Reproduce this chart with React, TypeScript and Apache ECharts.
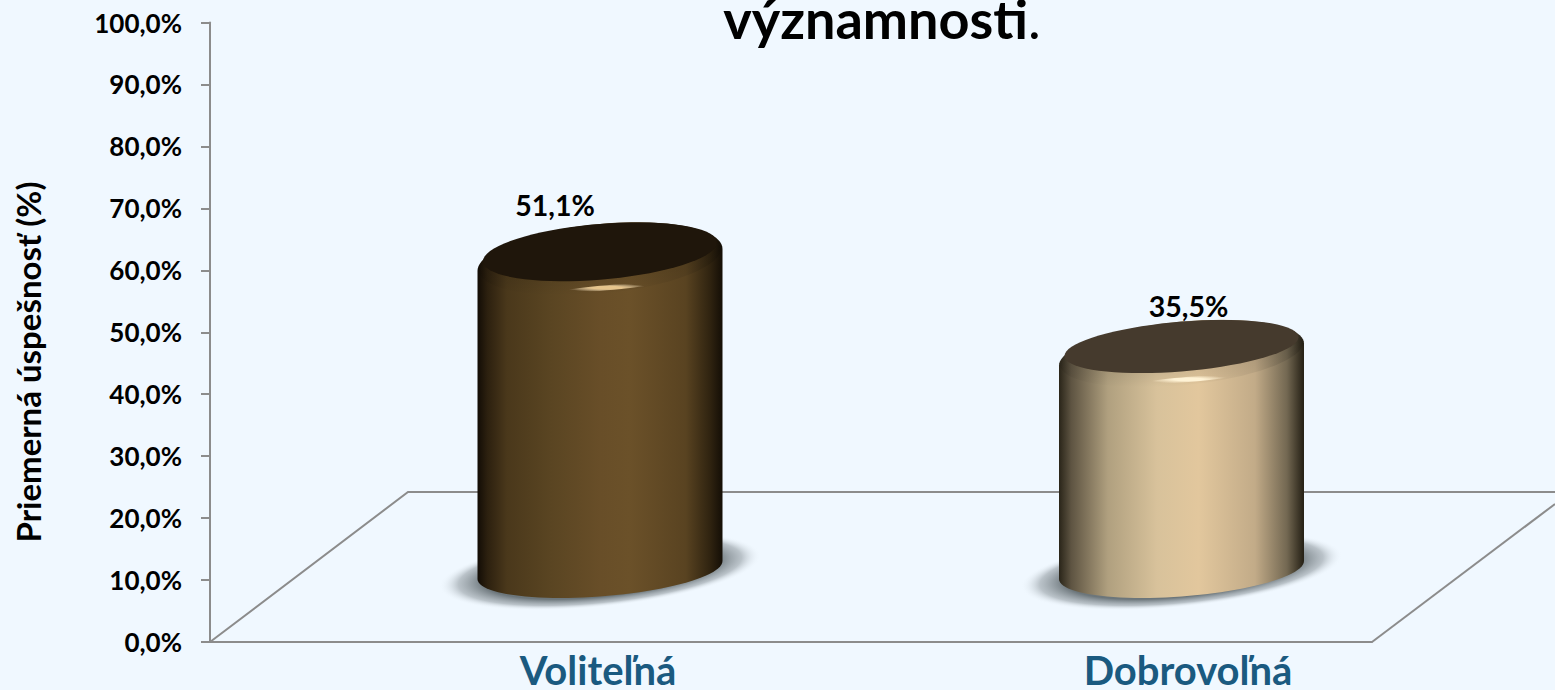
import React, { useEffect, useRef } from "react";
import * as echarts from "echarts";

const categories = ["Voliteľná", "Dobrovoľná"];
const values = [51.1, 35.5];
const yTicks = { min: 0, max: 100, interval: 10 };
const titleText = "významnosti";
const yAxisTitle = "Priemerná úspešnosť (%)";

const FONT = "Lato, 'Open Sans', sans-serif";
const AXIS_GRAY = "#8c8c8c";

const palette = [
  {
    top: "#1f160b",
    glow: "#e6c48c",
    stops: [
      [0, "#120c05"], [0.04, "#2c200f"], [0.12, "#4a381b"], [0.3, "#5a4522"], [0.5, "#684e28"],
      [0.62, "#6b5129"], [0.85, "#594321"], [0.95, "#2f2310"], [1, "#140e06"],
    ],
  },
  {
    top: "#453a2d",
    glow: "#fff3d6",
    stops: [
      [0, "#2a2519"], [0.05, "#5e5442"], [0.2, "#b0a07f"], [0.4, "#d8c29b"],
      [0.57, "#e2c79d"], [0.8, "#c2ab88"], [0.93, "#736852"], [1, "#241f14"],
    ],
  },
];
const labelShift = [[-45, -55], [7, -49]];

function arc(cx: number, cy: number, a: number, b: number, s: number, t0: number, t1: number, n = 48) {
  const out: number[][] = [];
  for (let i = 0; i <= n; i++) {
    const t = t0 + ((t1 - t0) * i) / n;
    out.push([cx + a * Math.cos(t), cy - s * a * Math.cos(t) + b * Math.sin(t)]);
  }
  return out;
}

const grad = (stops: any[]) =>
  new echarts.graphic.LinearGradient(0, 0, 1, 0, stops.map(([offset, color]) => ({ offset, color })));

function renderCylinder(params: any, api: any) {
  const i = params.dataIndex;
  const cat = api.value(0);
  const val = api.value(1);
  const [cx, topY] = api.coord([cat, val]);
  const [, baseY] = api.coord([cat, 0]);
  const halfW = (api.size([1, 0])[0] * 0.4213) / 2;
  const h = baseY - topY;
  const topB = 26 + 0.032 * h;
  const p = palette[i];
  const pi = Math.PI;

  const body = [
    ...arc(cx, topY, halfW, topB, 0.09, pi, 2 * pi),
    ...arc(cx, baseY, halfW, 26.5, 0.073, 0, pi),
  ];
  const rimShade = arc(cx, topY - 1, halfW - 1, topB - 1, 0.09, 0, 2 * pi, 72);
  const face = arc(cx, topY - 8, halfW - 5.5, topB - 8, 0.08, 0, 2 * pi, 72);
  const glow = arc(cx + 7, topY + topB - 8, 42, 2.6, 0.08, 0, 2 * pi, 36);
  const label = String(val.toFixed(1)).replace(".", ",") + "%";

  return {
    type: "group",
    children: [
      {
        type: "ellipse",
        x: cx,
        y: baseY + 1,
        rotation: 0.1,
        shape: { cx: 0, cy: 0, rx: halfW * 1.32, ry: 36 },
        style: {
          fill: new echarts.graphic.RadialGradient(0.5, 0.5, 0.5, [
            { offset: 0, color: "#6a7479" },
            { offset: 0.72, color: "#6c767b" },
            { offset: 0.88, color: "rgba(150,159,165,0.6)" },
            { offset: 1, color: "rgba(240,248,255,0)" },
          ]),
        },
      },
      { type: "polygon", shape: { points: body }, style: { fill: grad(p.stops) } },
      {
        type: "polygon",
        shape: { points: rimShade },
        style: {
          fill: new echarts.graphic.LinearGradient(0, 0, 0, 1, [
            { offset: 0, color: "rgba(0,0,0,0.2)" },
            { offset: 0.8, color: "rgba(0,0,0,0.06)" },
            { offset: 1, color: "rgba(0,0,0,0)" },
          ]),
        },
      },
      { type: "polygon", shape: { points: face }, style: { fill: p.top } },
      {
        type: "polygon",
        shape: { points: glow },
        style: {
          fill: new echarts.graphic.RadialGradient(0.5, 0.5, 0.5, [
            { offset: 0, color: p.glow },
            { offset: 0.35, color: p.glow },
            { offset: 1, color: "rgba(255,240,210,0)" },
          ]),
        },
      },
      {
        type: "text",
        x: cx + labelShift[i][0],
        y: topY + labelShift[i][1],
        style: {
          text: label,
          align: "center",
          verticalAlign: "middle",
          fontSize: 28.5,
          fontWeight: "bold",
          fontFamily: FONT,
          fill: "#000",
        },
      },
    ],
  };
}

export default function App() {
  const ref = useRef<HTMLDivElement>(null);
  useEffect(() => {
    document.body.style.margin = "0";
    const chart = echarts.init(ref.current!, undefined, { renderer: "svg" });
    const floorLine = { stroke: AXIS_GRAY, lineWidth: 2, fill: "none" };
    chart.setOption({
      animation: false,
      backgroundColor: "#f0f8ff",
      title: {
        text: `{b|${titleText}}{r|.}`,
        left: 877,
        top: -18,
        textAlign: "center",
        textStyle: {
          rich: {
            b: { fontFamily: FONT, fontWeight: "bold", fontSize: 54, color: "#000", lineHeight: 62 },
            r: { fontFamily: FONT, fontWeight: "normal", fontSize: 54, color: "#000", lineHeight: 62 },
          },
        },
      },
      grid: [
        { left: 210, top: 22.5, width: 1162, height: 619.5 },
        { left: 309.25, top: 84.4, width: 1163, height: 485.6 },
        { left: 303, top: 22.5, width: 1180, height: 619.5 },
      ],
      xAxis: [
        {
          type: "category",
          gridIndex: 0,
          data: [],
          axisLine: { show: true, onZero: false, lineStyle: { color: AXIS_GRAY, width: 2 } },
          axisTick: { show: false },
          axisLabel: { show: false },
        },
        { type: "category", gridIndex: 1, data: categories, show: false },
        {
          type: "category",
          gridIndex: 2,
          data: categories,
          axisLine: { show: false },
          axisTick: { show: false },
          axisLabel: {
            show: true,
            interval: 0,
            margin: 19,
            lineHeight: 30,
            fontFamily: FONT,
            fontWeight: "bold",
            fontSize: 40,
            color: "#1a5a80",
          },
        },
      ],
      yAxis: [
        {
          type: "value",
          gridIndex: 0,
          min: yTicks.min,
          max: yTicks.max,
          interval: yTicks.interval,
          splitLine: { show: false },
          axisLine: { show: true, lineStyle: { color: AXIS_GRAY, width: 2 } },
          axisTick: { show: true, length: 9, lineStyle: { color: AXIS_GRAY, width: 2 } },
          axisLabel: {
            margin: 28,
            fontFamily: FONT,
            fontWeight: "bold",
            fontSize: 26,
            color: "#000",
            formatter: (v: number) => v.toFixed(1).replace(".", ",") + "%",
          },
        },
        { type: "value", gridIndex: 1, min: 0, max: 80, show: false },
        { type: "value", gridIndex: 2, min: 0, max: 100, show: false },
      ],
      graphic: [
        { type: "polyline", z: 1, shape: { points: [[210, 642], [408, 492], [1555, 492]] }, style: floorLine },
        { type: "polyline", z: 1, shape: { points: [[1372, 642], [1555, 504]] }, style: floorLine },
        {
          type: "text",
          x: 28,
          y: 362,
          rotation: Math.PI / 2,
          style: {
            text: yAxisTitle,
            align: "center",
            verticalAlign: "middle",
            fontFamily: FONT,
            fontWeight: "bold",
            fontSize: 33,
            fill: "#000",
          },
        },
      ],
      series: [
        {
          type: "custom",
          xAxisIndex: 1,
          yAxisIndex: 1,
          clip: false,
          z: 5,
          encode: { x: 0, y: 1 },
          data: values.map((v, i) => [i, v]),
          renderItem: renderCylinder,
        },
      ],
    });
    return () => chart.dispose();
  }, []);
  return <div ref={ref} style={{ position: "fixed", left: 0, top: 0, width: 1555, height: 690 }} />;
}
